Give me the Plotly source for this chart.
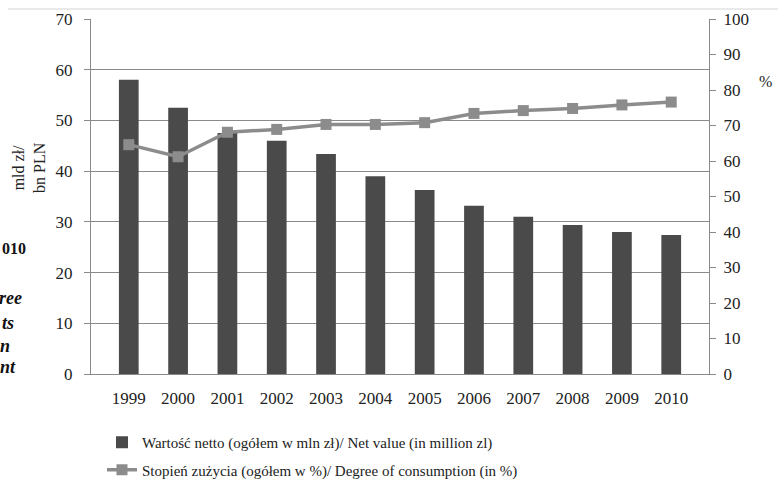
import plotly.graph_objects as go

years = ["1999", "2000", "2001", "2002", "2003", "2004", "2005", "2006", "2007", "2008", "2009", "2010"]
net_value = [58.0, 52.5, 47.5, 46.0, 43.4, 39.0, 36.3, 33.2, 31.0, 29.4, 28.0, 27.4]
consumption = [64.6, 61.2, 68.1, 68.9, 70.3, 70.3, 70.8, 73.4, 74.2, 74.8, 75.8, 76.6]

bar_name = "Wartość netto (ogółem w mln zł)/ Net value (in million zl)"
line_name = "Stopień zużycia (ogółem w %)/ Degree of consumption (in %)"

FONT = "Liberation Serif, Times New Roman, DejaVu Serif, serif"
W, H = 778, 484
L, R, T, B = 91, 69, 19, 110
pw, ph = W - L - R, H - T - B

def px(x):
    return (x - L) / pw

def py(y):
    return (H - B - y) / ph

fig = go.Figure()
fig.add_trace(go.Bar(x=years, y=net_value, name=bar_name, marker_color="#4a4a4a",
                     marker_line_width=0, yaxis="y", legendgroup="a"))
fig.add_trace(go.Scatter(x=years, y=consumption, name=line_name, yaxis="y2", mode="lines+markers",
                         line=dict(color="#8c8c8c", width=3.5), legendgroup="b",
                         marker=dict(symbol="square", size=11, color="#8c8c8c")))

fig.update_layout(
    width=W, height=H,
    margin=dict(l=L, r=R, t=T, b=B, autoexpand=False),
    paper_bgcolor="white", plot_bgcolor="white",
    font=dict(family=FONT, size=17, color="#222"),
    bargap=0.6,
    xaxis=dict(showline=True, linecolor="#8a8a8a", linewidth=1, ticks="", showgrid=False,
               tickfont=dict(size=17), ticklabelstandoff=9),
    yaxis=dict(range=[0, 70], dtick=10, showline=True, linecolor="#8a8a8a", linewidth=1,
               ticks="outside", ticklen=6, tickcolor="#8a8a8a",
               showgrid=True, gridcolor="#8a8a8a", gridwidth=1, zeroline=False,
               tickfont=dict(size=17), ticklabelstandoff=8),
    yaxis2=dict(range=[0, 100], dtick=10, overlaying="y", side="right", showline=True,
                linecolor="#8a8a8a", linewidth=1, ticks="outside", ticklen=6, tickcolor="#8a8a8a",
                showgrid=False, zeroline=False, tickfont=dict(size=17), ticklabelstandoff=4),
    legend=dict(orientation="v", x=px(102), y=py(426), xanchor="left", yanchor="top",
                font=dict(size=15), bgcolor="rgba(0,0,0,0)", traceorder="grouped",
                tracegroupgap=5),
    showlegend=True,
)

anns = [
    dict(text="mld zł/<br>bn PLN", x=px(29), y=py(168), textangle=-90, font=dict(size=16)),
    dict(text="%", x=px(757), y=py(81), xanchor="left", font=dict(size=16)),
    dict(text="<b>010</b>", x=px(28), y=py(248), xanchor="right", font=dict(size=16, color="#111")),
    dict(text="<b><i>ree</i></b>", x=px(24), y=py(298), xanchor="right", font=dict(size=18, color="#111")),
    dict(text="<b><i>ts</i></b>", x=px(16), y=py(323), xanchor="right", font=dict(size=18, color="#111")),
    dict(text="<b><i>n</i></b>", x=px(12), y=py(346), xanchor="right", font=dict(size=18, color="#111")),
    dict(text="<b><i>nt</i></b>", x=px(18), y=py(367), xanchor="right", font=dict(size=18, color="#111")),
]
for a in anns:
    a.setdefault("xanchor", "center")
    fig.add_annotation(xref="paper", yref="paper", showarrow=False, yanchor="middle", **a)

fig.add_shape(type="line", xref="paper", yref="paper", x0=px(8), x1=px(778), y0=py(9), y1=py(9),
              line=dict(color="#d4d4d4", width=1))

fig.write_html("out.html", config={"displayModeBar": False},
               post_script="document.body.style.margin='0';")
